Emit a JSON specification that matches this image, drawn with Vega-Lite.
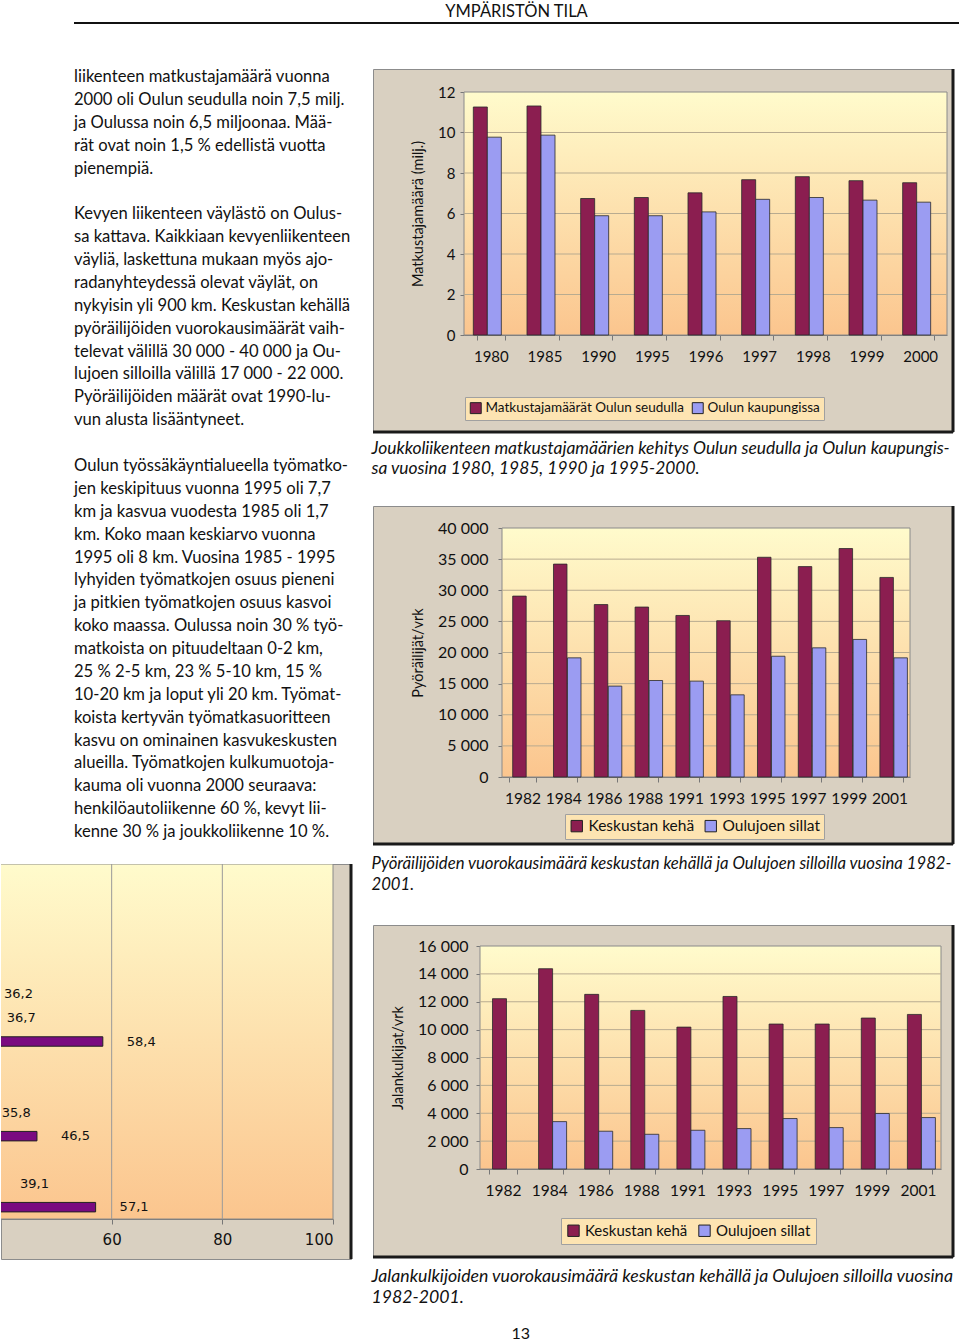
{
  "$schema": "https://vega.github.io/schema/vega-lite/v6.json",
  "padding": {"top": 3, "left": 0, "right": 0, "bottom": 0},
  "background": "white",
  "config": {
    "view": {"stroke": null},
    "font": "Lato",
    "scale": {"offsetBandPaddingInner": 0, "offsetBandPaddingOuter": 0},
    "locale": {"number": {"decimal": ",", "thousands": " ", "grouping": [3], "currency": ["", " €"]}}
  },
  "title": {"text": "13", "orient": "bottom", "anchor": "middle", "dx": 41, "offset": 19, "fontSize": 16, "fontWeight": "normal", "font": "Lato", "color": "#111"},
  "datasets": {
    "teksti": [
      {"rivi": 0, "t": "liikenteen matkustajamäärä vuonna"},
      {"rivi": 1, "t": "2000 oli Oulun seudulla noin 7,5 milj."},
      {"rivi": 2, "t": "ja Oulussa noin 6,5 miljoonaa. Mää-"},
      {"rivi": 3, "t": "rät ovat noin 1,5  % edellistä vuotta"},
      {"rivi": 4, "t": "pienempiä."},
      {"rivi": 6, "t": "Kevyen liikenteen väylästö on Oulus-"},
      {"rivi": 7, "t": "sa kattava. Kaikkiaan kevyenliikenteen"},
      {"rivi": 8, "t": "väyliä, laskettuna mukaan myös ajo-"},
      {"rivi": 9, "t": "radanyhteydessä olevat väylät, on"},
      {"rivi": 10, "t": "nykyisin yli 900 km. Keskustan kehällä"},
      {"rivi": 11, "t": "pyöräilijöiden vuorokausimäärät vaih-"},
      {"rivi": 12, "t": "televat välillä 30 000 - 40 000 ja Ou-"},
      {"rivi": 13, "t": "lujoen silloilla välillä 17 000 - 22 000."},
      {"rivi": 14, "t": "Pyöräilijöiden määrät ovat 1990-lu-"},
      {"rivi": 15, "t": "vun alusta lisääntyneet."},
      {"rivi": 17, "t": "Oulun työssäkäyntialueella työmatko-"},
      {"rivi": 18, "t": "jen keskipituus vuonna 1995 oli 7,7"},
      {"rivi": 19, "t": "km ja kasvua vuodesta 1985 oli 1,7"},
      {"rivi": 20, "t": "km. Koko maan keskiarvo vuonna"},
      {"rivi": 21, "t": "1995 oli 8 km. Vuosina 1985 - 1995"},
      {"rivi": 22, "t": "lyhyiden työmatkojen osuus pieneni"},
      {"rivi": 23, "t": "ja pitkien työmatkojen osuus kasvoi"},
      {"rivi": 24, "t": "koko maassa. Oulussa noin 30 % työ-"},
      {"rivi": 25, "t": "matkoista on pituudeltaan  0-2 km,"},
      {"rivi": 26, "t": "25 % 2-5 km, 23 % 5-10 km, 15 %"},
      {"rivi": 27, "t": "10-20 km ja loput yli 20 km. Työmat-"},
      {"rivi": 28, "t": "koista kertyvän työmatkasuoritteen"},
      {"rivi": 29, "t": "kasvu on ominainen kasvukeskusten"},
      {"rivi": 30, "t": "alueilla. Työmatkojen kulkumuotoja-"},
      {"rivi": 31, "t": "kauma oli vuonna 2000 seuraava:"},
      {"rivi": 32, "t": "henkilöautoliikenne 60 %, kevyt lii-"},
      {"rivi": 33, "t": "kenne 30 % ja joukkoliikenne 10 %."}
    ],
    "osuus": [
      {"r": 5, "p": 36.2},
      {"r": 6, "p": 36.7},
      {"r": 7, "p": 58.4},
      {"r": 10, "p": 35.8},
      {"r": 11, "p": 46.5},
      {"r": 13, "p": 39.1},
      {"r": 14, "p": 57.1}
    ],
    "joukko": [
      {"vuosi": "1980", "sarja": "Matkustajamäärät Oulun seudulla", "arvo": 11.26},
      {"vuosi": "1985", "sarja": "Matkustajamäärät Oulun seudulla", "arvo": 11.31},
      {"vuosi": "1990", "sarja": "Matkustajamäärät Oulun seudulla", "arvo": 6.74},
      {"vuosi": "1995", "sarja": "Matkustajamäärät Oulun seudulla", "arvo": 6.79},
      {"vuosi": "1996", "sarja": "Matkustajamäärät Oulun seudulla", "arvo": 7.02},
      {"vuosi": "1997", "sarja": "Matkustajamäärät Oulun seudulla", "arvo": 7.67},
      {"vuosi": "1998", "sarja": "Matkustajamäärät Oulun seudulla", "arvo": 7.82},
      {"vuosi": "1999", "sarja": "Matkustajamäärät Oulun seudulla", "arvo": 7.62},
      {"vuosi": "2000", "sarja": "Matkustajamäärät Oulun seudulla", "arvo": 7.52},
      {"vuosi": "1980", "sarja": "Oulun kaupungissa", "arvo": 9.77},
      {"vuosi": "1985", "sarja": "Oulun kaupungissa", "arvo": 9.87},
      {"vuosi": "1990", "sarja": "Oulun kaupungissa", "arvo": 5.89},
      {"vuosi": "1995", "sarja": "Oulun kaupungissa", "arvo": 5.89},
      {"vuosi": "1996", "sarja": "Oulun kaupungissa", "arvo": 6.08},
      {"vuosi": "1997", "sarja": "Oulun kaupungissa", "arvo": 6.7},
      {"vuosi": "1998", "sarja": "Oulun kaupungissa", "arvo": 6.79},
      {"vuosi": "1999", "sarja": "Oulun kaupungissa", "arvo": 6.66},
      {"vuosi": "2000", "sarja": "Oulun kaupungissa", "arvo": 6.56}
    ],
    "pyora": [
      {"vuosi": "1982", "sarja": "Keskustan kehä", "arvo": 29060},
      {"vuosi": "1984", "sarja": "Keskustan kehä", "arvo": 34200},
      {"vuosi": "1986", "sarja": "Keskustan kehä", "arvo": 27700},
      {"vuosi": "1988", "sarja": "Keskustan kehä", "arvo": 27300},
      {"vuosi": "1991", "sarja": "Keskustan kehä", "arvo": 25950},
      {"vuosi": "1993", "sarja": "Keskustan kehä", "arvo": 25100},
      {"vuosi": "1995", "sarja": "Keskustan kehä", "arvo": 35300},
      {"vuosi": "1997", "sarja": "Keskustan kehä", "arvo": 33800},
      {"vuosi": "1999", "sarja": "Keskustan kehä", "arvo": 36700},
      {"vuosi": "2001", "sarja": "Keskustan kehä", "arvo": 32060},
      {"vuosi": "1984", "sarja": "Oulujoen sillat", "arvo": 19140},
      {"vuosi": "1986", "sarja": "Oulujoen sillat", "arvo": 14600},
      {"vuosi": "1988", "sarja": "Oulujoen sillat", "arvo": 15500},
      {"vuosi": "1991", "sarja": "Oulujoen sillat", "arvo": 15400},
      {"vuosi": "1993", "sarja": "Oulujoen sillat", "arvo": 13200},
      {"vuosi": "1995", "sarja": "Oulujoen sillat", "arvo": 19400},
      {"vuosi": "1997", "sarja": "Oulujoen sillat", "arvo": 20750},
      {"vuosi": "1999", "sarja": "Oulujoen sillat", "arvo": 22100},
      {"vuosi": "2001", "sarja": "Oulujoen sillat", "arvo": 19140}
    ],
    "jalan": [
      {"vuosi": "1982", "sarja": "Keskustan kehä", "arvo": 12220},
      {"vuosi": "1984", "sarja": "Keskustan kehä", "arvo": 14370},
      {"vuosi": "1986", "sarja": "Keskustan kehä", "arvo": 12530},
      {"vuosi": "1988", "sarja": "Keskustan kehä", "arvo": 11380},
      {"vuosi": "1991", "sarja": "Keskustan kehä", "arvo": 10180},
      {"vuosi": "1993", "sarja": "Keskustan kehä", "arvo": 12380},
      {"vuosi": "1995", "sarja": "Keskustan kehä", "arvo": 10400},
      {"vuosi": "1997", "sarja": "Keskustan kehä", "arvo": 10400},
      {"vuosi": "1999", "sarja": "Keskustan kehä", "arvo": 10830},
      {"vuosi": "2001", "sarja": "Keskustan kehä", "arvo": 11090},
      {"vuosi": "1984", "sarja": "Oulujoen sillat", "arvo": 3400},
      {"vuosi": "1986", "sarja": "Oulujoen sillat", "arvo": 2710},
      {"vuosi": "1988", "sarja": "Oulujoen sillat", "arvo": 2490},
      {"vuosi": "1991", "sarja": "Oulujoen sillat", "arvo": 2780},
      {"vuosi": "1993", "sarja": "Oulujoen sillat", "arvo": 2900},
      {"vuosi": "1995", "sarja": "Oulujoen sillat", "arvo": 3620},
      {"vuosi": "1997", "sarja": "Oulujoen sillat", "arvo": 2970},
      {"vuosi": "1999", "sarja": "Oulujoen sillat", "arvo": 3980},
      {"vuosi": "2001", "sarja": "Oulujoen sillat", "arvo": 3690}
    ]
  },
  "spacing": 43,
  "resolve": {"scale": {"color": "independent"}},
  "vconcat": [
    {
      "spacing": 0,
      "bounds": "flush",
      "hconcat": [
        {"width": 73, "height": 2, "data": {"values": []}, "mark": "point"},
        {
          "width": 885,
          "height": 2,
          "title": {"text": "YMPÄRISTÖN TILA", "anchor": "middle", "offset": 2, "fontSize": 16.5, "fontWeight": "normal", "font": "Lato", "color": "#111"},
          "data": {"values": [{}]},
          "mark": {"type": "rect", "color": "#111"}
        }
      ]
    },
    {
      "spacing": 18,
      "resolve": {"scale": {"color": "independent"}},
      "hconcat": [
        {
          "spacing": 15,
          "vconcat": [
            {
              "spacing": 0,
              "bounds": "flush",
              "hconcat": [
                {"width": 73, "height": 10, "data": {"values": []}, "mark": "point"},
                {
                  "width": 278,
                  "height": 778,
                  "data": {"name": "teksti"},
                  "mark": {"type": "text", "align": "left", "baseline": "top", "fontSize": 16.6, "font": "Lato", "color": "#111"},
                  "encoding": {
                    "x": {"datum": 0, "type": "quantitative", "scale": {"domain": [0, 1]}, "axis": null},
                    "y": {"field": "rivi", "type": "quantitative", "scale": {"domain": [0, 34], "range": [0, 778]}, "axis": null},
                    "text": {"field": "t", "type": "nominal"}
                  }
                }
              ]
            },
            {
              "width": 350,
              "height": 395,
              "view": {"fill": "#d9d0c1", "stroke": "#8c8c8c"},
              "resolve": {"scale": {"x": "independent", "y": "independent"}},
              "layer": [
                {
                  "data": {"values": [{}]},
                  "mark": {"type": "rect", "clip": true, "stroke": "#8a8a8a", "strokeWidth": 1,
                    "fill": {"gradient": "linear", "x1": 0, "y1": 0, "x2": 0, "y2": 1, "stops": [{"offset": 0, "color": "#fffbcc"}, {"offset": 1, "color": "#fbc58e"}]}},
                  "encoding": {
                    "x": {"datum": 0, "type": "quantitative", "title": null,
                      "scale": {"domain": [40, 100], "range": [0, 332], "zero": false, "nice": false},
                      "axis": {"orient": "bottom", "offset": -40, "values": [60, 80, 100], "grid": false, "tickSize": 5, "labelPadding": 8, "labelFont": "DejaVu Sans", "labelFontSize": 15, "labelColor": "#111", "domainColor": "#777", "tickColor": "#777"}},
                    "x2": {"datum": 100},
                    "y": {"datum": 0, "type": "quantitative", "scale": {"domain": [0, 1], "range": [0, 355]}, "axis": null},
                    "y2": {"datum": 1}
                  }
                },
                {
                  "data": {"values": [{"p": 60}, {"p": 80}]},
                  "mark": {"type": "rule", "color": "#9a9a9a", "strokeWidth": 1},
                  "encoding": {
                    "x": {"field": "p", "type": "quantitative", "scale": {"domain": [40, 100], "range": [0, 332], "zero": false, "nice": false}, "axis": null},
                    "y": {"datum": 0, "type": "quantitative", "scale": {"domain": [0, 1], "range": [0, 355]}, "axis": null},
                    "y2": {"datum": 1}
                  }
                },
                {
                  "data": {"name": "osuus"},
                  "mark": {"type": "bar", "clip": true, "color": "#7a0a80", "stroke": "#222", "strokeWidth": 1},
                  "encoding": {
                    "x": {"field": "p", "type": "quantitative", "scale": {"domain": [40, 100], "range": [0, 332], "zero": false, "nice": false}, "axis": null},
                    "y": {"field": "r", "type": "ordinal", "axis": null,
                      "scale": {"domain": [0, 1, 2, 3, 4, 5, 6, 7, 8, 9, 10, 11, 12, 13, 14], "range": [0, 355], "paddingInner": 0.6, "paddingOuter": 0.3}}
                  }
                },
                {
                  "data": {"name": "osuus"},
                  "mark": {"type": "text", "clip": true, "align": "left", "dx": 24, "font": "DejaVu Sans", "fontSize": 13, "color": "#111"},
                  "encoding": {
                    "x": {"field": "p", "type": "quantitative", "scale": {"domain": [40, 100], "range": [0, 332], "zero": false, "nice": false}, "axis": null},
                    "y": {"field": "r", "type": "ordinal", "axis": null,
                      "scale": {"domain": [0, 1, 2, 3, 4, 5, 6, 7, 8, 9, 10, 11, 12, 13, 14], "range": [0, 355], "paddingInner": 0.6, "paddingOuter": 0.3}},
                    "text": {"field": "p", "type": "quantitative", "format": ".1f"}
                  }
                },
                {
                  "data": {"values": [{}]},
                  "mark": {"type": "rule", "color": "#1a1a1a", "strokeWidth": 3},
                  "encoding": {"x": {"datum": 1, "type": "quantitative", "scale": {"domain": [0, 1]}, "axis": null}}
                }
              ]
            }
          ]
        },
        {
          "spacing": 26,
          "resolve": {"scale": {"color": "independent"}},
          "vconcat": [
            {
              "width": 580,
              "height": 363,
              "view": {"fill": "#d9d0c1", "stroke": "#8c8c8c"},
              "title": {"text": ["Joukkoliikenteen matkustajamäärien kehitys Oulun seudulla ja Oulun kaupungis-", "sa vuosina 1980, 1985, 1990 ja 1995-2000."], "orient": "bottom", "anchor": "start", "offset": 6, "fontSize": 17.4, "fontStyle": "italic", "fontWeight": "normal", "font": "Lato", "lineHeight": 20, "color": "#111"},
              "resolve": {"scale": {"x": "independent", "y": "independent"}},
              "layer": [
                {
                  "data": {"values": [{}]},
                  "mark": {"type": "rect", "stroke": "#8a8a8a", "strokeWidth": 1,
                    "fill": {"gradient": "linear", "x1": 0, "y1": 0, "x2": 0, "y2": 1, "stops": [{"offset": 0, "color": "#fffbcc"}, {"offset": 1, "color": "#fbc58e"}]}},
                  "encoding": {
                    "x": {"datum": 0, "type": "quantitative", "scale": {"domain": [0, 1], "range": [91, 574]}, "axis": null},
                    "x2": {"datum": 1},
                    "y": {"datum": 0, "type": "quantitative", "scale": {"domain": [0, 12], "range": [266, 23], "nice": false}, "axis": null},
                    "y2": {"datum": 12}
                  }
                },
                {
                  "data": {"values": [{"v": 2}, {"v": 4}, {"v": 6}, {"v": 8}, {"v": 10}]},
                  "mark": {"type": "rule", "color": "#b8ab90", "strokeWidth": 1},
                  "encoding": {
                    "x": {"datum": 0, "type": "quantitative", "scale": {"domain": [0, 1], "range": [91, 574]}, "axis": null},
                    "x2": {"datum": 1},
                    "y": {"field": "v", "type": "quantitative", "scale": {"domain": [0, 12], "range": [266, 23], "nice": false}, "axis": null}
                  }
                },
                {
                  "data": {"name": "joukko"},
                  "mark": {"type": "bar", "width": 14, "stroke": "#2a2a2a", "strokeWidth": 0.8},
                  "encoding": {
                    "x": {"field": "vuosi", "type": "nominal", "title": null,
                      "scale": {"range": [91, 574], "paddingInner": 0.478, "paddingOuter": 0.239},
                      "axis": {"orient": "bottom", "offset": -97, "labelAngle": 0, "labelFont": "Lato", "labelFontSize": 15, "labelColor": "#111", "labelPadding": 9, "tickSize": 5, "tickBand": "extent", "tickColor": "#777", "domainColor": "#777", "grid": false}},
                    "xOffset": {"field": "sarja", "type": "nominal", "sort": ["Matkustajamäärät Oulun seudulla", "Oulun kaupungissa"], "scale": {"paddingInner": 0, "paddingOuter": 0}},
                    "y": {"field": "arvo", "type": "quantitative", "title": "Matkustajamäärä (milj.)",
                      "scale": {"domain": [0, 12], "range": [266, 23], "nice": false},
                      "axis": {"offset": -91, "values": [0, 2, 4, 6, 8, 10, 12], "grid": false, "tickSize": 4, "tickColor": "#777", "domainColor": "#777", "labelFont": "Lato", "labelFontSize": 15, "labelColor": "#111", "labelPadding": 5, "titleFont": "Lato", "titleFontSize": 14.5, "titleFontWeight": "normal", "titleColor": "#111", "titlePadding": 12}},
                    "color": {"field": "sarja", "type": "nominal",
                      "scale": {"domain": ["Matkustajamäärät Oulun seudulla", "Oulun kaupungissa"], "range": ["#8b1e50", "#9b9cf2"]},
                      "legend": {"orient": "none", "legendX": 92, "legendY": 328, "direction": "horizontal", "title": null, "fillColor": "#fde4b2", "strokeColor": "#a0a0a0", "padding": 4, "symbolType": "square", "symbolSize": 120, "symbolStrokeColor": "#222", "symbolStrokeWidth": 1, "labelFont": "Lato", "labelFontSize": 13.5, "labelColor": "#111", "labelLimit": 300, "columnPadding": 6, "labelOffset": 3}}
                  }
                },
                {
                  "data": {"values": [{}]},
                  "mark": {"type": "rule", "color": "#1a1a1a", "strokeWidth": 3},
                  "encoding": {"x": {"datum": 1, "type": "quantitative", "scale": {"domain": [0, 1]}, "axis": null}}
                },
                {
                  "data": {"values": [{}]},
                  "mark": {"type": "rule", "color": "#1a1a1a", "strokeWidth": 3},
                  "encoding": {"y": {"datum": 0, "type": "quantitative", "scale": {"domain": [0, 1]}, "axis": null}}
                }
              ]
            },
            {
              "spacing": 29,
              "resolve": {"scale": {"color": "independent"}},
              "vconcat": [
                {
                  "width": 580,
                  "height": 338,
                  "view": {"fill": "#d9d0c1", "stroke": "#8c8c8c"},
                  "title": {"text": ["Pyöräilijöiden vuorokausimäärä keskustan kehällä  ja Oulujoen silloilla vuosina 1982-", "2001."], "orient": "bottom", "anchor": "start", "offset": 10, "fontSize": 16.7, "fontStyle": "italic", "fontWeight": "normal", "font": "Lato", "lineHeight": 21, "color": "#111"},
                  "resolve": {"scale": {"x": "independent", "y": "independent"}},
                  "layer": [
                    {
                      "data": {"values": [{}]},
                      "mark": {"type": "rect", "stroke": "#8a8a8a", "strokeWidth": 1,
                        "fill": {"gradient": "linear", "x1": 0, "y1": 0, "x2": 0, "y2": 1, "stops": [{"offset": 0, "color": "#fffbcc"}, {"offset": 1, "color": "#fbc58e"}]}},
                      "encoding": {
                        "x": {"datum": 0, "type": "quantitative", "scale": {"domain": [0, 1], "range": [129, 537]}, "axis": null},
                        "x2": {"datum": 1},
                        "y": {"datum": 0, "type": "quantitative", "scale": {"domain": [0, 40000], "range": [271, 22], "nice": false}, "axis": null},
                        "y2": {"datum": 40000}
                      }
                    },
                    {
                      "data": {"values": [{"v": 5000}, {"v": 10000}, {"v": 15000}, {"v": 20000}, {"v": 25000}, {"v": 30000}, {"v": 35000}]},
                      "mark": {"type": "rule", "color": "#b8ab90", "strokeWidth": 1},
                      "encoding": {
                        "x": {"datum": 0, "type": "quantitative", "scale": {"domain": [0, 1], "range": [129, 537]}, "axis": null},
                        "x2": {"datum": 1},
                        "y": {"field": "v", "type": "quantitative", "scale": {"domain": [0, 40000], "range": [271, 22], "nice": false}, "axis": null}
                      }
                    },
                    {
                      "data": {"name": "pyora"},
                      "mark": {"type": "bar", "width": 13.5, "stroke": "#2a2a2a", "strokeWidth": 0.8},
                      "encoding": {
                        "x": {"field": "vuosi", "type": "nominal", "title": null,
                          "scale": {"range": [129, 537], "paddingInner": 0.34, "paddingOuter": 0.17},
                          "axis": {"orient": "bottom", "offset": -67, "labelAngle": 0, "labelFont": "Lato", "labelFontSize": 15.5, "labelColor": "#111", "labelPadding": 9, "tickSize": 5, "tickBand": "extent", "tickColor": "#777", "domainColor": "#777", "grid": false}},
                        "xOffset": {"field": "sarja", "type": "nominal", "sort": ["Keskustan kehä", "Oulujoen sillat"], "scale": {"paddingInner": 0, "paddingOuter": 0}},
                        "y": {"field": "arvo", "type": "quantitative", "title": "Pyöräilijät/vrk",
                          "scale": {"domain": [0, 40000], "range": [271, 22], "nice": false},
                          "axis": {"offset": -129, "values": [0, 5000, 10000, 15000, 20000, 25000, 30000, 35000, 40000], "format": ",d", "grid": false, "tickSize": 4, "tickColor": "#777", "domainColor": "#777", "labelFont": "Lato", "labelFontSize": 16, "labelColor": "#111", "labelPadding": 10, "titleFont": "Lato", "titleFontSize": 14.5, "titleFontWeight": "normal", "titleColor": "#111", "titlePadding": 12}},
                        "color": {"field": "sarja", "type": "nominal",
                          "scale": {"domain": ["Keskustan kehä", "Oulujoen sillat"], "range": ["#8b1e50", "#9b9cf2"]},
                          "legend": {"orient": "none", "legendX": 192, "legendY": 308, "direction": "horizontal", "title": null, "fillColor": "#fde4b2", "strokeColor": "#a0a0a0", "padding": 4, "symbolType": "square", "symbolSize": 130, "symbolStrokeColor": "#222", "symbolStrokeWidth": 1, "labelFont": "Lato", "labelFontSize": 15.5, "labelColor": "#111", "labelLimit": 300, "columnPadding": 8, "labelOffset": 4}}
                      }
                    },
                    {
                      "data": {"values": [{}]},
                      "mark": {"type": "rule", "color": "#1a1a1a", "strokeWidth": 3},
                      "encoding": {"x": {"datum": 1, "type": "quantitative", "scale": {"domain": [0, 1]}, "axis": null}}
                    },
                    {
                      "data": {"values": [{}]},
                      "mark": {"type": "rule", "color": "#1a1a1a", "strokeWidth": 3},
                      "encoding": {"y": {"datum": 0, "type": "quantitative", "scale": {"domain": [0, 1]}, "axis": null}}
                    }
                  ]
                },
                {
                  "width": 580,
                  "height": 332,
                  "view": {"fill": "#d9d0c1", "stroke": "#8c8c8c"},
                  "title": {"text": ["Jalankulkijoiden vuorokausimäärä keskustan kehällä ja Oulujoen silloilla vuosina", "1982-2001."], "orient": "bottom", "anchor": "start", "offset": 9, "fontSize": 17.7, "fontStyle": "italic", "fontWeight": "normal", "font": "Lato", "lineHeight": 21, "color": "#111"},
                  "resolve": {"scale": {"x": "independent", "y": "independent"}},
                  "layer": [
                    {
                      "data": {"values": [{}]},
                      "mark": {"type": "rect", "stroke": "#8a8a8a", "strokeWidth": 1,
                        "fill": {"gradient": "linear", "x1": 0, "y1": 0, "x2": 0, "y2": 1, "stops": [{"offset": 0, "color": "#fffbcc"}, {"offset": 1, "color": "#fbc58e"}]}},
                      "encoding": {
                        "x": {"datum": 0, "type": "quantitative", "scale": {"domain": [0, 1], "range": [107, 568]}, "axis": null},
                        "x2": {"datum": 1},
                        "y": {"datum": 0, "type": "quantitative", "scale": {"domain": [0, 16000], "range": [244, 21], "nice": false}, "axis": null},
                        "y2": {"datum": 16000}
                      }
                    },
                    {
                      "data": {"values": [{"v": 2000}, {"v": 4000}, {"v": 6000}, {"v": 8000}, {"v": 10000}, {"v": 12000}, {"v": 14000}]},
                      "mark": {"type": "rule", "color": "#b8ab90", "strokeWidth": 1},
                      "encoding": {
                        "x": {"datum": 0, "type": "quantitative", "scale": {"domain": [0, 1], "range": [107, 568]}, "axis": null},
                        "x2": {"datum": 1},
                        "y": {"field": "v", "type": "quantitative", "scale": {"domain": [0, 16000], "range": [244, 21], "nice": false}, "axis": null}
                      }
                    },
                    {
                      "data": {"name": "jalan"},
                      "mark": {"type": "bar", "width": 14, "stroke": "#2a2a2a", "strokeWidth": 0.8},
                      "encoding": {
                        "x": {"field": "vuosi", "type": "nominal", "title": null,
                          "scale": {"range": [107, 568], "paddingInner": 0.39, "paddingOuter": 0.195},
                          "axis": {"orient": "bottom", "offset": -88, "labelAngle": 0, "labelFont": "Lato", "labelFontSize": 15.5, "labelColor": "#111", "labelPadding": 9, "tickSize": 5, "tickBand": "extent", "tickColor": "#777", "domainColor": "#777", "grid": false}},
                        "xOffset": {"field": "sarja", "type": "nominal", "sort": ["Keskustan kehä", "Oulujoen sillat"], "scale": {"paddingInner": 0, "paddingOuter": 0}},
                        "y": {"field": "arvo", "type": "quantitative", "title": "Jalankulkijat/vrk",
                          "scale": {"domain": [0, 16000], "range": [244, 21], "nice": false},
                          "axis": {"offset": -107, "values": [0, 2000, 4000, 6000, 8000, 10000, 12000, 14000, 16000], "format": ",d", "grid": false, "tickSize": 4, "tickColor": "#777", "domainColor": "#777", "labelFont": "Lato", "labelFontSize": 16, "labelColor": "#111", "labelPadding": 8, "titleFont": "Lato", "titleFontSize": 14.5, "titleFontWeight": "normal", "titleColor": "#111", "titlePadding": 12}},
                        "color": {"field": "sarja", "type": "nominal",
                          "scale": {"domain": ["Keskustan kehä", "Oulujoen sillat"], "range": ["#8b1e50", "#9b9cf2"]},
                          "legend": {"orient": "none", "legendX": 188, "legendY": 293, "direction": "horizontal", "title": null, "fillColor": "#fde4b2", "strokeColor": "#a0a0a0", "padding": 5, "symbolType": "square", "symbolSize": 130, "symbolStrokeColor": "#222", "symbolStrokeWidth": 1, "labelFont": "Lato", "labelFontSize": 15, "labelColor": "#111", "labelLimit": 300, "columnPadding": 8, "labelOffset": 4}}
                      }
                    },
                    {
                      "data": {"values": [{}]},
                      "mark": {"type": "rule", "color": "#1a1a1a", "strokeWidth": 3},
                      "encoding": {"x": {"datum": 1, "type": "quantitative", "scale": {"domain": [0, 1]}, "axis": null}}
                    },
                    {
                      "data": {"values": [{}]},
                      "mark": {"type": "rule", "color": "#1a1a1a", "strokeWidth": 3},
                      "encoding": {"y": {"datum": 0, "type": "quantitative", "scale": {"domain": [0, 1]}, "axis": null}}
                    }
                  ]
                }
              ]
            }
          ]
        }
      ]
    }
  ]
}
